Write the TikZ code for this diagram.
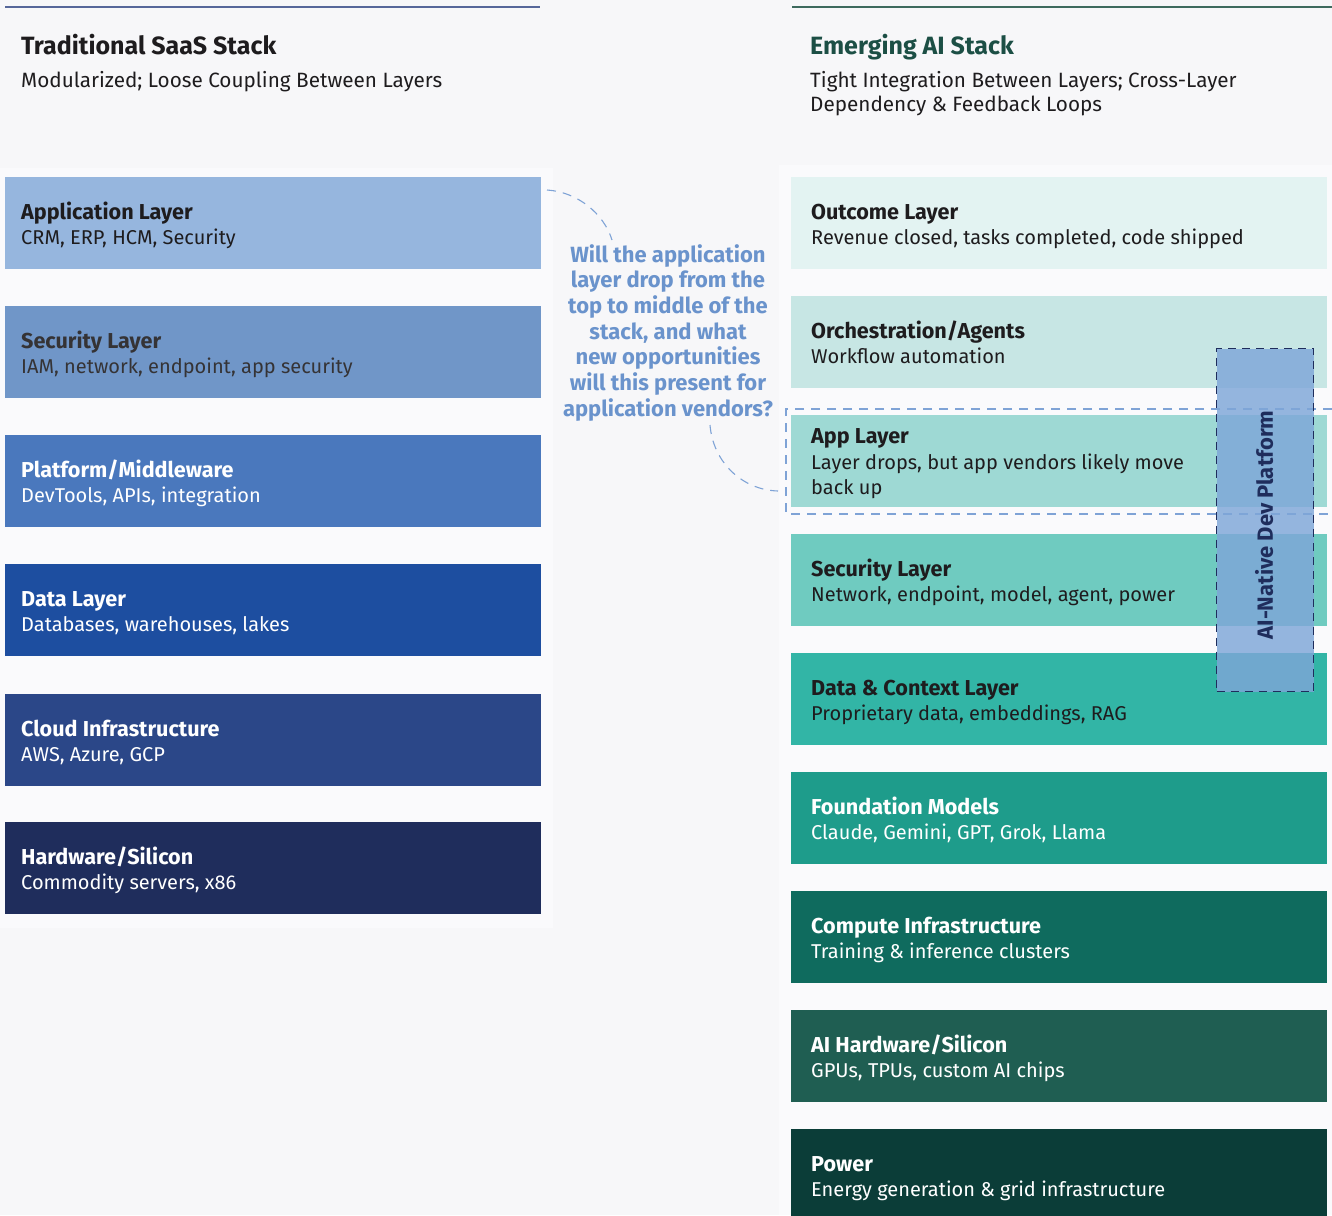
\documentclass[tikz,border=0pt]{standalone}
\usepackage{fontspec}
\setmainfont{Fira Sans}
\begin{document}
\definecolor{bg}{HTML}{F7F7F9}
\definecolor{panel}{HTML}{FAFAFC}
\definecolor{ink}{HTML}{1E1C1E}
\definecolor{navyline}{HTML}{56679A}
\definecolor{greenline}{HTML}{3E6A5E}
\definecolor{greentitle}{HTML}{1C4F45}
\definecolor{qblue}{HTML}{6A93CC}
\definecolor{dashblue}{HTML}{7FA3D6}
\definecolor{platfill}{HTML}{7EA6D8}
\definecolor{platnavy}{HTML}{1F2D5C}
% traditional stack fills
\definecolor{tA}{HTML}{96B6DE}
\definecolor{tB}{HTML}{7096C8}
\definecolor{tC}{HTML}{4A78BD}
\definecolor{tD}{HTML}{1D4EA0}
\definecolor{tE}{HTML}{2B4788}
\definecolor{tF}{HTML}{1F2D5C}
% AI stack fills
\definecolor{aA}{HTML}{E3F3F2}
\definecolor{aB}{HTML}{C7E6E4}
\definecolor{aC}{HTML}{9ED9D4}
\definecolor{aD}{HTML}{6FCBC0}
\definecolor{aE}{HTML}{32B5A6}
\definecolor{aF}{HTML}{1E9C8B}
\definecolor{aG}{HTML}{0F6B5E}
\definecolor{aH}{HTML}{1F5E52}
\definecolor{aI}{HTML}{0B3D38}
\begin{tikzpicture}[x=1pt,y=-1pt,
  layerbox/.style={rectangle,inner sep=0,outer sep=0,anchor=north west,
    minimum width=536pt,minimum height=92pt},
  ltitle/.style={inner sep=0,anchor=base west,font=\fontsize{21.6}{25}\selectfont\bfseries},
  lsub/.style={inner sep=0,anchor=base west,font=\fontsize{20}{25}\selectfont},
  htitle/.style={inner sep=0,anchor=base west,font=\fontsize{25}{29}\selectfont\bfseries},
  hsub/.style={inner sep=0,anchor=base west,font=\fontsize{20.7}{24}\selectfont,text=ink},
  curvedash/.style={draw=dashblue,line width=1.1pt,dash pattern=on 9pt off 7pt},
]
\useasboundingbox (0,0) rectangle (1332,1215);
\fill[bg] (0,0) rectangle (1332,1215);
% soft column panels
\fill[panel] (0,168) rectangle (553,928);
\fill[panel] (779,165) rectangle (1332,1215);

% header rules
\draw[navyline,line width=1.5pt] (5,7) -- (540,7);
\draw[greenline,line width=1.5pt] (792,7) -- (1332,7);

% headers
\node[htitle,text=ink] (lhead) at (21,55) {Traditional SaaS Stack};
\node[hsub] (lsubh) at (21,87) {Modularized; Loose Coupling Between Layers};
\node[htitle,text=greentitle] (rhead) at (810,55) {Emerging AI Stack};
\node[hsub] (rsubh1) at (810,87) {Tight Integration Between Layers; Cross-Layer};
\node[hsub] (rsubh2) at (810,111) {Dependency \& Feedback Loops};

% one layer: name, x, y, fill, text colour, title, description, text inset
\newcommand\stacklayer[8]{%
  \node[layerbox,fill=#4] (#1) at (#2,#3) {};
  \node[ltitle,text=#5] (#1-t) at ([xshift=#8,yshift=-42pt]#1.north west) {#6};
  \node[lsub,text=#5] (#1-s) at ([xshift=#8,yshift=-67pt]#1.north west) {#7};
}

% traditional SaaS stack
\stacklayer{tapp}{5}{177}{tA}{ink}{Application Layer}{CRM, ERP, HCM, Security}{16pt}
\stacklayer{tsec}{5}{306}{tB}{ink!90}{Security Layer}{IAM, network, endpoint, app security}{16pt}
\stacklayer{tplat}{5}{435}{tC}{white}{Platform/Middleware}{DevTools, APIs, integration}{16pt}
\stacklayer{tdata}{5}{564}{tD}{white}{Data Layer}{Databases, warehouses, lakes}{16pt}
\stacklayer{tcloud}{5}{694}{tE}{white}{Cloud Infrastructure}{AWS, Azure, GCP}{16pt}
\stacklayer{thw}{5}{822}{tF}{white}{Hardware/Silicon}{Commodity servers, x86}{16pt}

% emerging AI stack
\stacklayer{aout}{791}{177}{aA}{ink}{Outcome Layer}{Revenue closed, tasks completed, code shipped}{20pt}
\stacklayer{aorch}{791}{296}{aB}{ink}{Orchestration/Agents}{Workflow automation}{20pt}
% app layer carries a two-line description
\node[layerbox,fill=aC] (aapp) at (791,415) {};
\node[ltitle,text=ink] (aapp-t) at ([xshift=20pt,yshift=-28pt]aapp.north west) {App Layer};
\node[lsub,text=ink] (aapp-s1) at ([xshift=20pt,yshift=-54pt]aapp.north west) {Layer drops, but app vendors likely move};
\node[lsub,text=ink] (aapp-s2) at ([xshift=20pt,yshift=-79pt]aapp.north west) {back up};
\stacklayer{asec}{791}{534}{aD}{ink}{Security Layer}{Network, endpoint, model, agent, power}{20pt}
\stacklayer{actx}{791}{653}{aE}{ink}{Data \& Context Layer}{Proprietary data, embeddings, RAG}{20pt}
\stacklayer{afm}{791}{772}{aF}{white}{Foundation Models}{Claude, Gemini, GPT, Grok, Llama}{20pt}
\stacklayer{acomp}{791}{891}{aG}{white}{Compute Infrastructure}{Training \& inference clusters}{20pt}
\stacklayer{ahw}{791}{1010}{aH}{white}{AI Hardware/Silicon}{GPUs, TPUs, custom AI chips}{20pt}
\stacklayer{apow}{791}{1129}{aI}{white}{Power}{Energy generation \& grid infrastructure}{20pt}

% dashed frame around the relocated app layer
\coordinate (fr-tr) at (1332,409);
\coordinate (fr-tl) at (786,409);
\coordinate (fr-bl) at (786,514);
\coordinate (fr-br) at (1332,514);
\draw[draw=dashblue,line width=1.1pt,dash pattern=on 9pt off 7pt]
  (fr-tr) -- (fr-tl) -- (fr-bl) -- (fr-br);

% AI-native dev platform spanning several layers
\node[rectangle,inner sep=0,anchor=north west,minimum width=97pt,minimum height=343pt,
  fill=platfill,fill opacity=0.82,draw=platnavy,line width=1.4pt,
  dash pattern=on 8pt off 6pt] (plat) at (1216,348) {};
\node[rotate=90,inner sep=0,text=platnavy,font=\fontsize{22}{25}\selectfont\bfseries]
  (plat-t) at (1264,525) {AI-Native Dev Platform};

% the question between the stacks
\node[inner sep=0,anchor=north,align=center,text=qblue,
  font=\fontsize{22}{25.7}\selectfont\bfseries] (q) at (668,244)
  {Will the application\\ layer drop from the\\ top to middle of the\\ stack, and what\\ new opportunities\\ will this present for\\ application vendors?};

% dashed leaders from the old app layer, around the question, to the new one
\coordinate (c1s) at (547,190);
\coordinate (c1e) at (612,240);
\coordinate (c2s) at (710,425);
\coordinate (c2e) at (778,491);
\draw[curvedash] (c1s) .. controls (578,192) and (604,214) .. (c1e);
\draw[curvedash] (c2s) .. controls (713,462) and (742,490) .. (c2e);
\end{tikzpicture}
\end{document}
